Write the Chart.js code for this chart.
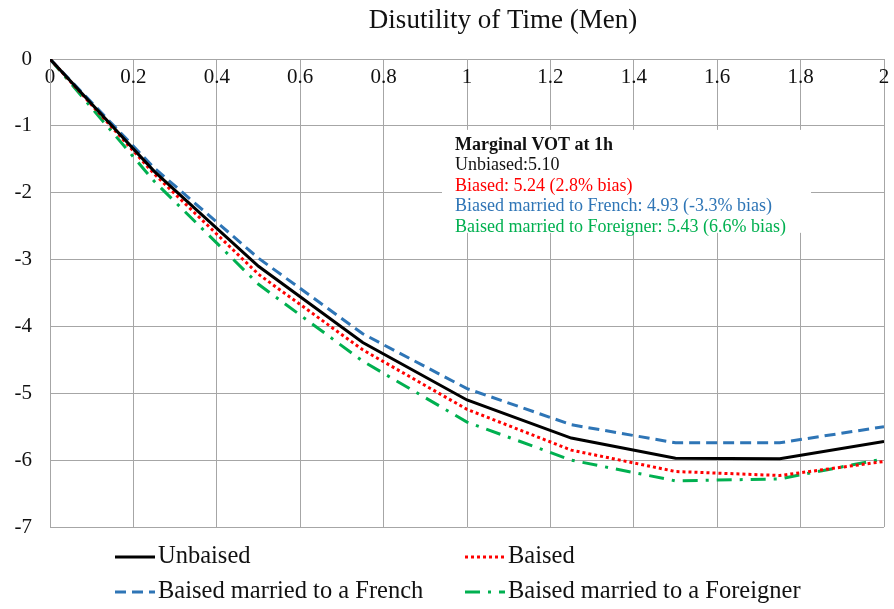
<!DOCTYPE html>
<html lang="en">
<head>
  <meta charset="UTF-8" />
  <title>Disutility of Time (Men)</title>
  <script src="https://cdn.jsdelivr.net/npm/chart.js"></script>
  <style>
    html, body { margin: 0; padding: 0; background: #fff; }
    #wrap { width: 894px; height: 609px; }
  </style>
</head>
<body>
  <div id="wrap"><canvas id="votChart"></canvas></div>

  <script>
    // hours spent (x) and disutility values
    const hours = [0, 0.25, 0.5, 0.75, 1, 1.25, 1.5, 1.75, 2];
    const unbiased = [0, -1.68, -3.10, -4.24, -5.10, -5.67, -5.97, -5.98, -5.72];
    const biased = [0, -1.72, -3.22, -4.35, -5.24, -5.85, -6.17, -6.23, -6.02];
    const marriedFrench = [0, -1.63, -2.98, -4.11, -4.93, -5.47, -5.74, -5.74, -5.50];
    const marriedForeigner = [0, -1.83, -3.37, -4.52, -5.43, -6.00, -6.31, -6.28, -5.98];

    const seriesNames = ['Unbaised', 'Baised', 'Baised married to a French', 'Baised married to a Foreigner'];
    const boxLines = [
      'Marginal VOT at 1h',
      'Unbiased:5.10',
      'Biased: 5.24 (2.8% bias)',
      'Biased married to French: 4.93 (-3.3% bias)',
      'Baised married to Foreigner: 5.43 (6.6% bias)'
    ];

    const serif = '"Liberation Serif", "DejaVu Serif", serif';
    const gridGrey = '#a6a6a6';

    const toPoints = ys => hours.map((h, i) => ({ x: h, y: ys[i] }));

    // title, VOT box and two-column legend drawn straight on the canvas
    const decor = {
      id: 'decor',
      beforeDatasetsDraw(chart) {
        const ctx = chart.ctx;
        const xs = chart.scales.x, ys = chart.scales.y;
        const left = xs.getPixelForValue(0.94), right = xs.getPixelForValue(1.825);
        const top = ys.getPixelForValue(-1.06), bottom = ys.getPixelForValue(-2.6);
        ctx.save();
        ctx.fillStyle = '#fff';
        ctx.fillRect(left, top, right - left, bottom - top);
        const colors = ['#111', '#111'].concat(chart.data.datasets.slice(1).map(d => d.borderColor));
        ctx.textBaseline = 'middle';
        ctx.textAlign = 'left';
        boxLines.forEach((t, i) => {
          ctx.font = (i === 0 ? 'bold ' : '') + '18px ' + serif;
          ctx.fillStyle = colors[i];
          ctx.fillText(t, left + 13, top + 15 + i * 20.5);
        });
        ctx.restore();
      },
      afterDraw(chart) {
        const ctx = chart.ctx;
        ctx.save();
        ctx.fillStyle = '#111';
        ctx.textAlign = 'center';
        ctx.textBaseline = 'alphabetic';
        ctx.font = '27px ' + serif;
        ctx.fillText('Disutility of Time (Men)', 503, 28);

        ctx.font = '24.5px ' + serif;
        ctx.textAlign = 'left';
        ctx.textBaseline = 'middle';
        chart.data.datasets.forEach((ds, i) => {
          const x0 = i % 2 === 0 ? 115 : 465;
          const y0 = i < 2 ? 557 : 592;
          ctx.strokeStyle = ds.borderColor;
          ctx.lineWidth = ds.borderWidth;
          ctx.setLineDash(ds.borderDash || []);
          ctx.beginPath();
          ctx.moveTo(x0, y0);
          ctx.lineTo(x0 + 40, y0);
          ctx.stroke();
          ctx.fillStyle = '#111';
          ctx.fillText(ds.label, x0 + 43, y0);
        });
        ctx.restore();
      }
    };

    new Chart(document.getElementById('votChart'), {
      type: 'line',
      data: {
        datasets: [
          { label: seriesNames[0], data: toPoints(unbiased), borderColor: '#000000', borderWidth: 3 },
          { label: seriesNames[1], data: toPoints(biased), borderColor: '#ff0000', borderWidth: 3, borderDash: [3, 3] },
          { label: seriesNames[2], data: toPoints(marriedFrench), borderColor: '#2e75b6', borderWidth: 3, borderDash: [11, 6] },
          { label: seriesNames[3], data: toPoints(marriedForeigner), borderColor: '#00b050', borderWidth: 3, borderDash: [15, 8, 3, 8] }
        ]
      },
      options: {
        responsive: true,
        maintainAspectRatio: false,
        animation: false,
        elements: { point: { radius: 0 }, line: { tension: 0 } },
        layout: { padding: { top: 59, right: 10, bottom: 82, left: 0 } },
        scales: {
          x: {
            type: 'linear',
            position: 'top',
            min: 0,
            max: 2,
            ticks: {
              stepSize: 0.2, mirror: true, padding: 6, maxRotation: 0, autoSkip: false,
              color: '#111', font: { family: serif, size: 21 },
              callback: v => String(Math.round(v * 10) / 10)
            },
            grid: { color: gridGrey, drawTicks: false },
            border: { color: gridGrey },
            afterFit: s => { s.height = 0; s.paddingRight = 0; }
          },
          y: {
            min: -7,
            max: 0,
            ticks: { stepSize: 1, padding: 18, color: '#111', font: { family: serif, size: 21 } },
            grid: { color: gridGrey, drawTicks: false },
            border: { color: gridGrey },
            afterFit: s => { s.width = 50; }
          }
        },
        plugins: {
          legend: { display: false },
          tooltip: { enabled: false }
        }
      },
      plugins: [decor]
    });
  </script>
</body>
</html>
